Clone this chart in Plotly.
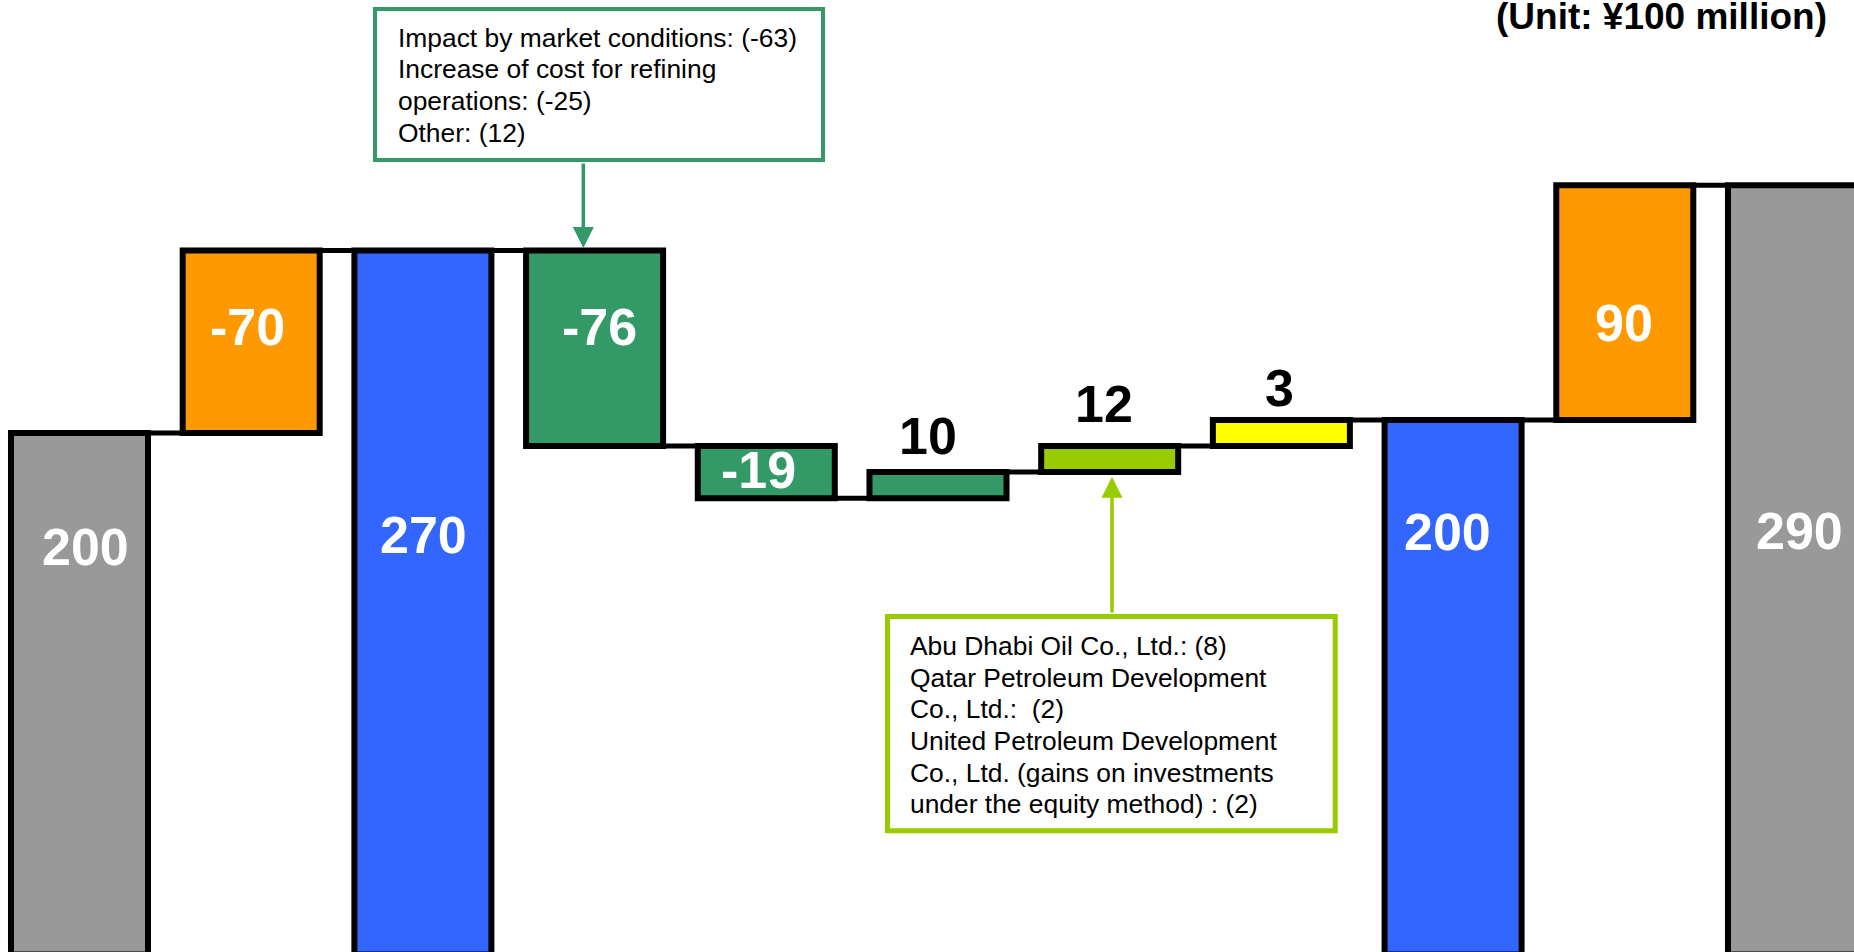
import plotly.graph_objects as go

# ---------------- data (¥100 million, as drawn in the picture) ----------------
value_labels = ["200", "-70", "270", "-76", "-19", "10", "12", "3", "200", "90", "290"]
bar_bottom = [0, 200, 0, 195, 175, 175, 185, 195, 0, 205, 0]
bar_top = [200, 270, 270, 270, 195, 185, 195, 205, 205, 295, 295]

market_notes = [
    "Impact by market conditions: (-63)",
    "Increase of cost for refining",
    "operations: (-25)",
    "Other: (12)",
]
equity_notes = [
    "Abu Dhabi Oil Co., Ltd.: (8)",
    "Qatar Petroleum Development",
    "Co., Ltd.:  (2)",
    "United Petroleum Development",
    "Co., Ltd. (gains on investments",
    "under the equity method) : (2)",
]
unit_text = "(Unit: ¥100 million)"

# ---------------- styles ----------------
FONT = "Liberation Sans, Arial, sans-serif"
W, H = 1854, 952
bar_colors = ["#999999", "#FF9900", "#3366FF", "#339966", "#339966", "#339966",
              "#99CC00", "#FFFF00", "#3366FF", "#FF9900", "#999999"]
label_colors = ["white", "white", "white", "white", "white", "black",
                "black", "black", "white", "white", "white"]
label_dy = [-114, -76.5, -284.5, -76.5, -24, 36.5, 42.5, 32, -112, -137.5, -346]
label_dx = [6, -4, 1, 4.5, -8, -10, -6, -2, -6, -1, 3.5]
BAR_W = 0.798
GREEN = "#339966"
LGREEN = "#99CC00"

pos = list(range(len(value_labels)))
heights = [t - b for t, b in zip(bar_top, bar_bottom)]

fig = go.Figure()
fig.add_trace(go.Bar(
    x=pos, y=heights, base=bar_bottom, width=BAR_W,
    marker=dict(color=bar_colors, line=dict(color="black", width=6)),
    hoverinfo="skip",
))

# connectors between adjacent bars at the shared level
cx, cy = [], []
for i in range(len(pos) - 1):
    shared = {bar_bottom[i], bar_top[i]} & {bar_bottom[i + 1], bar_top[i + 1]}
    lvl = max(shared)
    cx += [pos[i] + BAR_W / 2, pos[i + 1] - BAR_W / 2, None]
    cy += [lvl, lvl, None]
fig.add_trace(go.Scatter(x=cx, y=cy, mode="lines",
                         line=dict(color="black", width=5), hoverinfo="skip"))

annotations = []
for i, lab in enumerate(value_labels):
    annotations.append(dict(
        x=pos[i], y=bar_top[i], xref="x", yref="y",
        text=f"<b>{lab}</b>", showarrow=False,
        xanchor="center", yanchor="middle",
        xshift=label_dx[i], yshift=label_dy[i],
        font=dict(family=FONT, size=52, color=label_colors[i]),
    ))

# arrows from the note boxes
annotations.append(dict(
    x=pos[3], y=bar_top[3], xref="x", yref="y", text="",
    showarrow=True, axref="pixel", ayref="pixel", ax=0, ay=-88.5,
    xshift=-11.3, arrowhead=2, arrowsize=1.2, arrowwidth=3.5,
    arrowcolor=GREEN, standoff=2.5,
))
annotations.append(dict(
    x=pos[6], y=bar_bottom[6], xref="x", yref="y", text="",
    showarrow=True, axref="pixel", ayref="pixel", ax=0, ay=142,
    xshift=2.3, arrowhead=2, arrowsize=1.2, arrowwidth=3.5,
    arrowcolor=LGREEN, standoff=4.6,
))

NOTE_SIZE = 26.4
LINE_STEP = 31.67
CENTER_OFF = 0.3465 * NOTE_SIZE


def note_lines(lines, left_px, first_baseline_px):
    out = []
    for k, t in enumerate(lines):
        cy_px = first_baseline_px + k * LINE_STEP - CENTER_OFF
        out.append(dict(
            x=left_px / W, y=1 - cy_px / H, xref="paper", yref="paper",
            text=t, showarrow=False, xanchor="left", yanchor="middle",
            align="left", font=dict(family=FONT, size=NOTE_SIZE, color="black"),
        ))
    return out


annotations += note_lines(market_notes, 395.5, 46.7)
annotations += note_lines(equity_notes, 907.5, 655)

annotations.append(dict(
    x=1829 / W, y=1 - 16.5 / H, xref="paper", yref="paper",
    text=f"<b>{unit_text}</b>", showarrow=False,
    xanchor="right", yanchor="middle",
    font=dict(family=FONT, size=37, color="black"),
))

shapes = [
    dict(type="rect", xref="paper", yref="paper",
         x0=375 / W, x1=823 / W, y0=1 - 160 / H, y1=1 - 9 / H,
         line=dict(color=GREEN, width=4), fillcolor="white", layer="below"),
    dict(type="rect", xref="paper", yref="paper",
         x0=887.5 / W, x1=1335.2 / W, y0=1 - 830.8 / H, y1=1 - 616.5 / H,
         line=dict(color=LGREEN, width=5), fillcolor="white", layer="below"),
]

fig.update_layout(
    width=W, height=H,
    margin=dict(l=0, r=0, t=0, b=0, pad=0),
    paper_bgcolor="white", plot_bgcolor="white",
    showlegend=False,
    xaxis=dict(range=[-0.463, 10.335], visible=False, showgrid=False, zeroline=False),
    yaxis=dict(range=[0.92, 366.1], visible=False, showgrid=False, zeroline=False),
    annotations=annotations,
    shapes=shapes,
)

fig.write_html("out.html")
